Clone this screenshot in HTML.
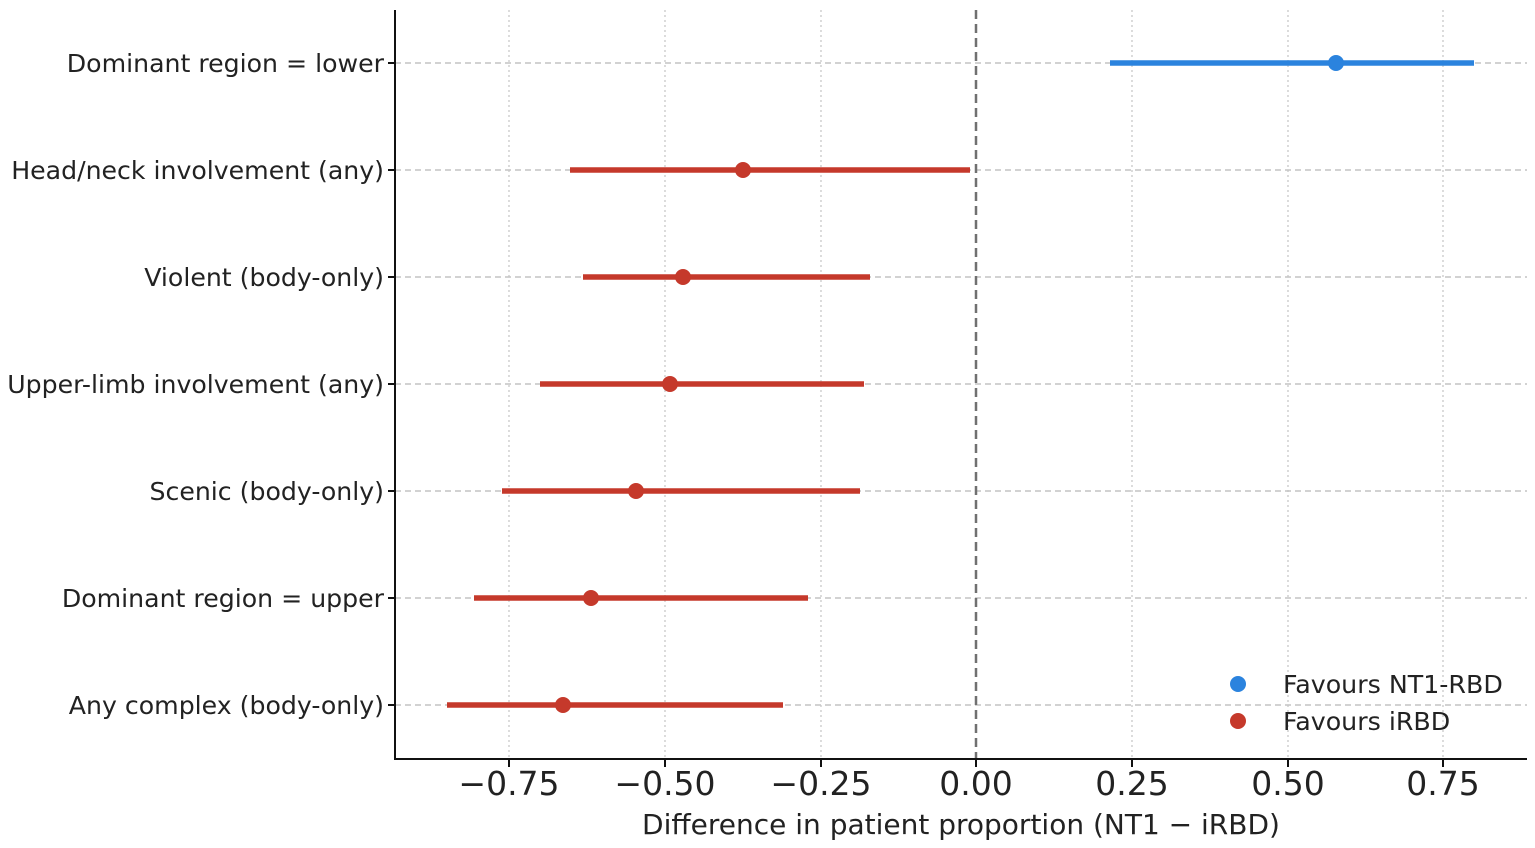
<!DOCTYPE html>
<html><head><meta charset="utf-8"><style>html,body{margin:0;padding:0;background:#fff}svg{display:block}text{font-family:"DejaVu Sans","Liberation Sans",sans-serif;fill:#222}</style></head><body>
<svg width="1535" height="848" viewBox="0 0 1535 848">
<g stroke="#c8c8c8" stroke-width="1.3" stroke-dasharray="2,3">
<line x1="509" y1="10" x2="509" y2="759"/><line x1="665" y1="10" x2="665" y2="759"/><line x1="821" y1="10" x2="821" y2="759"/><line x1="1132" y1="10" x2="1132" y2="759"/><line x1="1288" y1="10" x2="1288" y2="759"/><line x1="1443" y1="10" x2="1443" y2="759"/>
</g>
<g stroke="#c4c4c4" stroke-width="1.5" stroke-dasharray="6,4">
<line x1="395" y1="63" x2="1527" y2="63"/><line x1="395" y1="170" x2="1527" y2="170"/><line x1="395" y1="277" x2="1527" y2="277"/><line x1="395" y1="384" x2="1527" y2="384"/><line x1="395" y1="491" x2="1527" y2="491"/><line x1="395" y1="598" x2="1527" y2="598"/><line x1="395" y1="705" x2="1527" y2="705"/>
</g>
<line x1="976" y1="10" x2="976" y2="759" stroke="#707070" stroke-width="2.5" stroke-dasharray="9,5"/>
<g stroke-width="5.5">
<line x1="1110" y1="63" x2="1474" y2="63" stroke="#2b83de"/>
<line x1="570" y1="170" x2="970" y2="170" stroke="#c5392b"/>
<line x1="583" y1="277" x2="870" y2="277" stroke="#c5392b"/>
<line x1="540" y1="384" x2="864" y2="384" stroke="#c5392b"/>
<line x1="502" y1="491" x2="860" y2="491" stroke="#c5392b"/>
<line x1="474" y1="598" x2="808" y2="598" stroke="#c5392b"/>
<line x1="447" y1="705" x2="783" y2="705" stroke="#c5392b"/>
</g>
<circle cx="1336" cy="63" r="8" fill="#2b83de"/>
<g fill="#c5392b"><circle cx="743" cy="170" r="8"/><circle cx="683" cy="277" r="8"/><circle cx="670" cy="384" r="8"/><circle cx="636" cy="491" r="8"/><circle cx="591" cy="598" r="8"/><circle cx="563" cy="705" r="8"/></g>
<g stroke="#111" stroke-width="2">
<line x1="395" y1="10" x2="395" y2="760"/><line x1="394" y1="759" x2="1527" y2="759"/>
<line x1="388" y1="63" x2="395" y2="63"/><line x1="388" y1="170" x2="395" y2="170"/><line x1="388" y1="277" x2="395" y2="277"/><line x1="388" y1="384" x2="395" y2="384"/><line x1="388" y1="491" x2="395" y2="491"/><line x1="388" y1="598" x2="395" y2="598"/><line x1="388" y1="705" x2="395" y2="705"/>
<line x1="509" y1="759" x2="509" y2="767"/><line x1="665" y1="759" x2="665" y2="767"/><line x1="821" y1="759" x2="821" y2="767"/><line x1="976" y1="759" x2="976" y2="767"/><line x1="1132" y1="759" x2="1132" y2="767"/><line x1="1288" y1="759" x2="1288" y2="767"/><line x1="1443" y1="759" x2="1443" y2="767"/>
</g>
<g font-size="25.2" text-anchor="end">
<text x="384" y="72">Dominant region = lower</text>
<text x="384" y="179">Head/neck involvement (any)</text>
<text x="384" y="286">Violent (body-only)</text>
<text x="384" y="393">Upper-limb involvement (any)</text>
<text x="384" y="500">Scenic (body-only)</text>
<text x="384" y="607">Dominant region = upper</text>
<text x="384" y="714">Any complex (body-only)</text>
</g>
<g font-size="33" text-anchor="middle">
<text x="509" y="795">−0.75</text><text x="665" y="795">−0.50</text><text x="821" y="795">−0.25</text><text x="976" y="795">0.00</text><text x="1132" y="795">0.25</text><text x="1288" y="795">0.50</text><text x="1443" y="795">0.75</text>
</g>
<text x="961" y="834" font-size="28" text-anchor="middle">Difference in patient proportion (NT1 − iRBD)</text>
<circle cx="1238" cy="684" r="8" fill="#2b83de"/>
<circle cx="1238" cy="721" r="8" fill="#c5392b"/>
<text x="1283" y="693" font-size="25.3">Favours NT1-RBD</text>
<text x="1283" y="730" font-size="25.3">Favours iRBD</text>
</svg>
</body></html>
